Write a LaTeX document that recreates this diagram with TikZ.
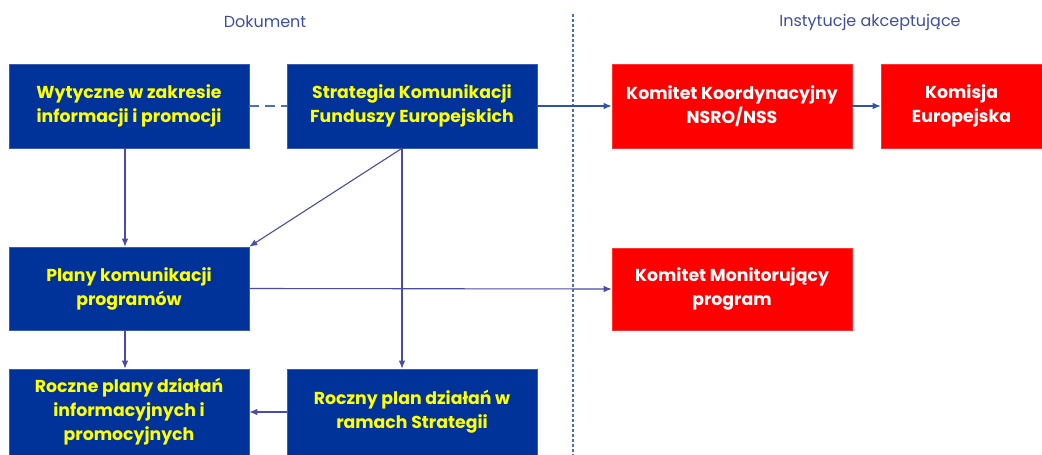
\documentclass[tikz,border=0pt]{standalone}
\usepackage{fontspec}
\setmainfont{Poppins}
\usetikzlibrary{arrows.meta}
\definecolor{boxblue}{HTML}{003399}
\definecolor{boxedge}{HTML}{3A5BB0}
\definecolor{boxred}{HTML}{FF0000}
\definecolor{txtyellow}{HTML}{FFFF00}
\definecolor{linepurple}{HTML}{4A4AA8}
\definecolor{lineblue}{HTML}{2F55A0}
\definecolor{dashblue}{HTML}{4A6FC0}
\definecolor{labelblue}{HTML}{3F4FA0}
\begin{document}
\begin{tikzpicture}[x=1pt,y=-1pt,
  boxtext/.style={font=\bfseries\fontsize{17.3}{24}\selectfont, align=center, inner sep=0pt},
  bluebox/.style={boxtext, draw=boxedge, fill=boxblue, text=txtyellow, line width=0.6pt},
  redbox/.style={boxtext, draw=red!80!white, fill=boxred, text=white, line width=0.6pt},
  conn/.style={draw=linepurple, line width=1.1pt, -{Latex[length=8pt,width=6.5pt]}},
  bconn/.style={draw=lineblue, line width=1.1pt, -{Latex[length=8pt,width=6.5pt]}},
  lbl/.style={font=\fontsize{16}{18}\selectfont, text=labelblue, inner sep=0pt}
]
\useasboundingbox[fill=white] (0,0) rectangle (1042,455);
% header labels
\node[lbl] (doc) at (265,22) {Dokument};
\node[lbl] (inst) at (870,22) {Instytucje akceptujące};
% separator
\draw[dashblue, line width=1.1pt, dash pattern=on 2.5pt off 2.5pt] (573,14) -- (573,455);
% row 1
\node[bluebox, minimum width=240pt, minimum height=84pt] (wyt) at (129,106) {Wytyczne w zakresie\\informacji i promocji};
\node[bluebox, minimum width=250pt, minimum height=84pt] (strat) at (412,106) {Strategia Komunikacji\\Funduszy Europejskich};
\node[redbox, minimum width=240pt, minimum height=84pt] (kk) at (732,106) {Komitet Koordynacyjny\\NSRO/NSS};
\node[redbox, minimum width=161pt, minimum height=84pt] (kom) at (961.5,106) {Komisja\\Europejska};
% row 2
\node[bluebox, minimum width=240pt, minimum height=83pt] (plany) at (129,288.5) {Plany komunikacji\\programów};
\node[redbox, minimum width=240pt, minimum height=82pt] (km) at (732,289) {Komitet Monitorujący\\program};
% row 3
\node[bluebox, minimum width=240pt, minimum height=86pt] (roczne) at (129,412) {Roczne plany działań\\informacyjnych i\\promocyjnych};
\node[bluebox, minimum width=250pt, minimum height=86pt] (roczny) at (412,412) {Roczny plan działań w\\ramach Strategii};
% connectors
\draw[dashblue, line width=1.1pt, dash pattern=on 10pt off 6pt] (wyt.east) -- (strat.west);
\draw[bconn] (strat.east) -- (kk.west);
\draw[bconn] (kk.east) -- (kom.west);
\draw[conn] ([xshift=-4pt]wyt.south) -- ([xshift=-4pt]plany.north);
\draw[conn] ([xshift=-10pt]strat.south) -- (plany.north east);
\draw[conn] ([xshift=-10pt]strat.south) -- ([xshift=-10pt]roczny.north);
\draw[conn] (plany.east) -- (km.west);
\draw[conn] ([xshift=-4pt]plany.south) -- ([xshift=-4pt]roczne.north);
\draw[conn] (roczny.west) -- (roczne.east);
\end{tikzpicture}
\end{document}
